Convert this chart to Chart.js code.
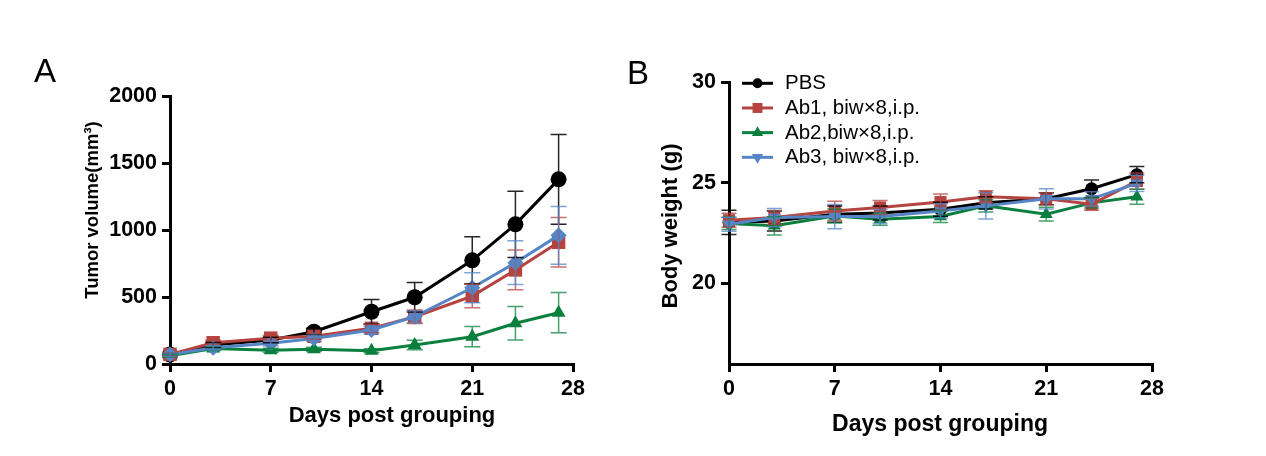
<!DOCTYPE html>
<html><head><meta charset="utf-8">
<script src="https://cdn.jsdelivr.net/npm/chart.js@4.4.1/dist/chart.umd.min.js"></script>
<style>
html,body{margin:0;padding:0;background:#fff;}
#wrap{position:relative;width:1266px;height:456px;overflow:hidden;background:#fff;}
#pA{position:absolute;left:0;top:0;width:600px;height:456px;}
#pB{position:absolute;left:600px;top:0;width:666px;height:456px;}
</style></head><body>
<div id="wrap">
<div id="pA"><canvas id="cA" width="600" height="456"></canvas></div>
<div id="pB"><canvas id="cB" width="666" height="456"></canvas></div>
</div>
<script>
// ---------- data ----------
const days = [0, 3, 7, 10, 14, 17, 21, 24, 27];
const xTicks = [0, 7, 14, 21, 28];
const volTicks = [0, 500, 1000, 1500, 2000];
const weightTicks = [20, 25, 30];
const seriesNames = ['PBS', 'Ab1, biw\u00d78,i.p.', 'Ab2,biw\u00d78,i.p.', 'Ab3, biw\u00d78,i.p.'];

const volPBS    = [70, 142, 179, 241, 390, 498, 774, 1042, 1378];
const volPBSErr = [12, 18, 20, 25, 92, 110, 175, 248, 335];
const volAb1    = [72, 159, 193, 207, 266, 353, 507, 702, 908];
const volAb1Err = [12, 18, 20, 22, 30, 50, 88, 148, 185];
const volAb2    = [62, 115, 102, 110, 99, 142, 204, 304, 383];
const volAb2Err = [10, 15, 15, 15, 15, 35, 75, 125, 150];
const volAb3    = [70, 122, 154, 191, 254, 353, 569, 756, 960];
const volAb3Err = [12, 15, 18, 22, 30, 45, 112, 163, 215];

const wPBS    = [23.03, 23.10, 23.44, 23.50, 23.68, 24.00, 24.20, 24.70, 25.40];
const wPBSErr = [0.60, 0.50, 0.40, 0.35, 0.35, 0.30, 0.30, 0.43, 0.40];
const wAb1    = [23.14, 23.27, 23.60, 23.77, 24.04, 24.30, 24.20, 23.93, 25.08];
const wAb1Err = [0.35, 0.35, 0.48, 0.35, 0.40, 0.30, 0.30, 0.30, 0.40];
const wAb2    = [22.98, 22.86, 23.35, 23.19, 23.32, 23.85, 23.44, 24.00, 24.30];
const wAb2Err = [0.30, 0.45, 0.35, 0.30, 0.30, 0.30, 0.34, 0.25, 0.37];
const wAb3    = [22.94, 23.27, 23.32, 23.32, 23.60, 23.85, 24.20, 24.20, 24.97];
const wAb3Err = [0.35, 0.45, 0.60, 0.35, 0.35, 0.65, 0.50, 0.35, 0.40];

// ---------- styles ----------
const FONT = '"Liberation Sans", Arial, Helvetica, sans-serif';
const COLORS = ['#000000', '#B5433F', '#0A7F3E', '#5585C5'];
const ERRCOLORS = ['rgba(0,0,0,0.85)', 'rgba(181,67,63,0.75)', 'rgba(10,127,62,0.75)', 'rgba(85,133,197,0.75)'];
const DRAW_ORDER = [4, 2, 3, 1];

const pts = vals => vals.map((v, i) => ({x: days[i], y: v}));

function mkDataset(i, vals, errs, style, radius, rotation) {
  return {
    label: seriesNames[i],
    data: pts(vals),
    errors: errs,
    errorColor: ERRCOLORS[i],
    borderColor: COLORS[i],
    backgroundColor: COLORS[i],
    pointBackgroundColor: COLORS[i],
    pointBorderColor: COLORS[i],
    pointBorderWidth: 0,
    pointStyle: style,
    pointRadius: radius,
    pointRotation: rotation || 0,
    borderWidth: 3,
    tension: 0,
    clip: false,
    order: DRAW_ORDER[i]
  };
}

// ---------- plugins ----------
const errorBars = {
  id: 'errorBars',
  afterDatasetsDraw(chart, args, o) {
    const ctx = chart.ctx, xs = chart.scales.x, ys = chart.scales.y;
    chart.data.datasets.forEach(ds => {
      if (!ds.errors) return;
      ctx.save();
      ctx.strokeStyle = ds.errorColor;
      ctx.lineWidth = o.lineWidth;
      ds.data.forEach((p, j) => {
        const e = ds.errors[j];
        const x = xs.getPixelForValue(p.x);
        const yt = ys.getPixelForValue(p.y + e), yb = ys.getPixelForValue(p.y - e);
        ctx.beginPath();
        ctx.moveTo(x, yt); ctx.lineTo(x, yb);
        ctx.moveTo(x - o.cap, yt); ctx.lineTo(x + o.cap, yt);
        ctx.moveTo(x - o.cap, yb); ctx.lineTo(x + o.cap, yb);
        ctx.stroke();
      });
      ctx.restore();
    });
  }
};

const texts = {
  id: 'texts',
  afterDraw(chart, args, o) {
    const ctx = chart.ctx;
    (o.items || []).forEach(t => {
      ctx.save();
      ctx.font = t.font;
      ctx.fillStyle = '#000';
      ctx.textAlign = t.align || 'center';
      ctx.textBaseline = 'alphabetic';
      ctx.translate(t.x, t.y);
      if (t.rot) ctx.rotate(t.rot);
      ctx.fillText(t.text, 0, 0);
      ctx.restore();
    });
  }
};

const lineLegend = {
  id: 'lineLegend',
  afterDraw(chart, args, o) {
    if (!o.display) return;
    const ctx = chart.ctx;
    chart.data.datasets.forEach((ds, i) => {
      const y = o.y0 + i * o.step;
      ctx.save();
      ctx.strokeStyle = ds.borderColor;
      ctx.lineWidth = 3;
      ctx.beginPath(); ctx.moveTo(o.x0, y); ctx.lineTo(o.x1, y); ctx.stroke();
      ctx.fillStyle = ds.pointBackgroundColor;
      ctx.strokeStyle = ds.pointBorderColor;
      Chart.helpers.drawPoint(ctx, {pointStyle: ds.pointStyle, rotation: ds.pointRotation, radius: o.markerRadius[i], borderWidth: 0}, (o.x0 + o.x1) / 2, y);
      ctx.fillStyle = '#000';
      ctx.font = o.font;
      ctx.textAlign = 'left';
      ctx.textBaseline = 'middle';
      ctx.fillText(ds.label, o.textX, y + 0.5);
      ctx.restore();
    });
  }
};

function linAxis(min, max, ticks, fixed, isX) {
  return {
    type: 'linear', min, max,
    afterBuildTicks: s => { s.ticks = ticks.map(v => ({value: v})); },
    afterFit: s => { if (isX) s.height = fixed; else s.width = fixed; },
    border: {display: true, color: '#000', width: 3},
    grid: {display: true, drawOnChartArea: false, drawTicks: true, tickLength: 8, tickColor: '#000', tickWidth: 3, color: '#000', lineWidth: 3},
    ticks: {color: '#000', font: {family: FONT, size: 21.5, weight: 'bold'}, padding: isX ? 4 : 5,
      autoSkip: false, maxRotation: 0, minRotation: 0, callback: v => String(v)},
    title: {display: false}
  };
}

Chart.defaults.font.family = FONT;

// ---------- Chart A ----------
new Chart(document.getElementById('cA'), {
  type: 'line',
  data: {
    datasets: [
      mkDataset(0, volPBS, volPBSErr, 'circle', 8),
      mkDataset(1, volAb1, volAb1Err, 'rect', 9.5),
      mkDataset(2, volAb2, volAb2Err, 'triangle', 8),
      mkDataset(3, volAb3, volAb3Err, 'rectRot', 8)
    ]
  },
  options: {
    responsive: false, animation: false, devicePixelRatio: 1,
    layout: {padding: {left: 0, top: 96, right: 27, bottom: 0}},
    scales: {
      x: linAxis(0, 28, xTicks, 92, true),
      y: linAxis(0, 2000, volTicks, 170, false)
    },
    plugins: {
      legend: {display: false}, tooltip: {enabled: false},
      errorBars: {lineWidth: 1.5, cap: 8},
      texts: {items: [
        {text: 'A', x: 34, y: 82, font: '33px ' + FONT, align: 'left'},
        {text: 'Days post grouping', x: 392, y: 422, font: 'bold 22px ' + FONT},
        {text: 'Tumor volume(mm\u00b3)', x: 98, y: 210, rot: -Math.PI / 2, font: 'bold 18.5px ' + FONT}
      ]},
      lineLegend: {display: false}
    }
  },
  plugins: [errorBars, texts, lineLegend]
});

// ---------- Chart B ----------
new Chart(document.getElementById('cB'), {
  type: 'line',
  data: {
    datasets: [
      mkDataset(0, wPBS, wPBSErr, 'circle', 6.5),
      mkDataset(1, wAb1, wAb1Err, 'rect', 8.5),
      mkDataset(2, wAb2, wAb2Err, 'triangle', 7.5),
      mkDataset(3, wAb3, wAb3Err, 'triangle', 7.5, 180)
    ]
  },
  options: {
    responsive: false, animation: false, devicePixelRatio: 1,
    layout: {padding: {left: 0, top: 82, right: 114, bottom: 0}},
    scales: {
      x: linAxis(0, 28, xTicks, 92, true),
      y: linAxis(16, 30, weightTicks, 129, false)
    },
    plugins: {
      legend: {display: false}, tooltip: {enabled: false},
      errorBars: {lineWidth: 1.5, cap: 7.5},
      texts: {items: [
        {text: 'B', x: 27, y: 84, font: '33px ' + FONT, align: 'left'},
        {text: 'Days post grouping', x: 340, y: 431, font: 'bold 23px ' + FONT},
        {text: 'Body weight (g)', x: 77, y: 226, rot: -Math.PI / 2, font: 'bold 22px ' + FONT}
      ]},
      lineLegend: {display: true, x0: 142, x1: 173, textX: 185, y0: 83.3, step: 24.67,
        markerRadius: [5, 7, 6.5, 6.5], font: '20.5px ' + FONT}
    }
  },
  plugins: [errorBars, texts, lineLegend]
});
</script>
</body></html>
